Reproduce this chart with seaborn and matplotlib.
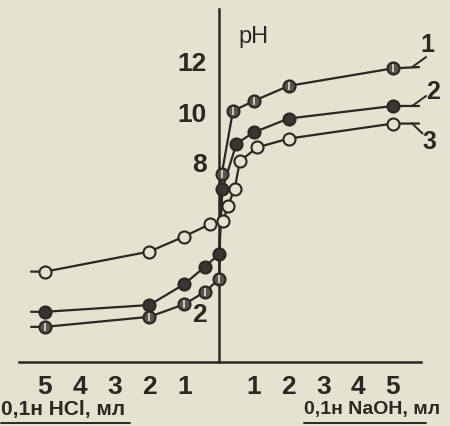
import numpy as np
import pandas as pd
import matplotlib
matplotlib.use("Agg")
import matplotlib.pyplot as plt
import seaborn as sns
from matplotlib import font_manager

# ---- data (x < 0: ml of 0.1 N HCl, x > 0: ml of 0.1 N NaOH) ----
x1 = [-5, -2, -1, -0.4, 0, 0.08, 0.4, 1, 2, 5]
ph1 = [1.4, 1.8, 2.3, 2.8, 3.3, 7.5, 10.0, 10.4, 11.0, 11.7]
x2 = [-5, -2, -1, -0.4, 0, 0.1, 0.5, 1, 2, 5]
ph2 = [2.0, 2.27, 3.1, 3.8, 4.3, 6.9, 8.7, 9.15, 9.7, 10.2]
x3 = [-5, -2, -1, -0.25, 0.12, 0.25, 0.45, 0.6, 1.1, 2, 5]
ph3 = [3.6, 4.4, 5.0, 5.5, 5.6, 6.2, 6.9, 8.0, 8.55, 8.9, 9.5]
curve_names = ["1", "2", "3"]
xtick_vals = [-5, -4, -3, -2, -1, 0, 1, 2, 3, 4, 5]
xtick_labels = ["5", "4", "3", "2", "1", "", "1", "2", "3", "4", "5"]
ytick_vals = [2, 4, 6, 8, 10, 12]
ytick_labels = ["2", "", "", "8", "10", "12"]
left_label = "0,1н HCl, мл"
right_label = "0,1н NaOH, мл"

PAPER = "#e6e2d0"
INK = "#2b2723"

sns.set_theme(style="white")
avail = {f.name for f in font_manager.fontManager.ttflist}
fam = "Liberation Sans Narrow" if "Liberation Sans Narrow" in avail else (
    "Liberation Sans" if "Liberation Sans" in avail else "DejaVu Sans")
plt.rcParams["font.family"] = [fam, "DejaVu Sans"]

fig = plt.figure(figsize=(4.5, 4.27), dpi=100, facecolor=PAPER)
ax = fig.add_axes([0, 0, 1, 1])
ax.set_facecolor(PAPER)

# tails beyond the last measured points (line only)
def with_tails(xs, ys, right_dy):
    xs2 = [-5.4] + list(xs) + [5.75]
    ys2 = [ys[0]] + list(ys) + [ys[-1] + right_dy]
    return xs2, ys2

frames = []
for name, xs, ys, dy in [("1", x1, ph1, 0.05), ("2", x2, ph2, 0.0), ("3", x3, ph3, 0.0)]:
    xt, yt = with_tails(xs, ys, dy)
    frames.append(pd.DataFrame({"x": xt, "pH": yt, "curve": name}))
lines_df = pd.concat(frames, ignore_index=True)

sns.lineplot(data=lines_df, x="x", y="pH", units="curve", estimator=None, sort=False,
             color=INK, lw=1.6, ax=ax, legend=False)

pts1 = pd.DataFrame({"x": x1, "pH": ph1})
pts2 = pd.DataFrame({"x": x2, "pH": ph2})
pts3 = pd.DataFrame({"x": x3, "pH": ph3})
sns.scatterplot(data=pts3, x="x", y="pH", s=75, color=PAPER, edgecolor=INK, linewidth=1.5, ax=ax, zorder=5)
sns.scatterplot(data=pts2, x="x", y="pH", s=75, color="#3a3531", edgecolor=INK, linewidth=1.5, ax=ax, zorder=5)
sns.scatterplot(data=pts1, x="x", y="pH", s=75, color="#5a5550", edgecolor=INK, linewidth=1.5, ax=ax, zorder=5)
sns.scatterplot(data=pts1, x="x", y="pH", s=40, marker="|", color="#d8d3c0", linewidth=1.3, ax=ax, zorder=6)

# axes geometry (pixel-matched)
ax.set_xlim(-219 / 34.8, 231 / 34.8)
ax.set_ylim((363 - 427) / 25.1, 363 / 25.1)
for s in ["top", "right"]:
    ax.spines[s].set_visible(False)
ax.spines["left"].set_position(("data", 0))
ax.spines["bottom"].set_position(("data", 0))
ax.spines["left"].set_bounds(0, 14.05)
ax.spines["bottom"].set_bounds(-5.75, 5.8)
for s in ["left", "bottom"]:
    ax.spines[s].set_color(INK)
    ax.spines[s].set_linewidth(1.8)

ax.set_xticks(xtick_vals)
ax.set_xticklabels(xtick_labels)
ax.set_yticks(ytick_vals)
ax.set_yticklabels(ytick_labels)
ax.tick_params(axis="x", direction="inout", length=11, width=1.5, color=INK,
               labelsize=19, labelcolor=INK, pad=3)
ax.tick_params(axis="y", direction="in", length=8, width=1.5, color=INK,
               labelsize=19, labelcolor=INK, pad=9)
for t in ax.get_xticklabels() + ax.get_yticklabels():
    t.set_fontweight("bold")
ax.set_xlabel("")
ax.set_ylabel("")

ax.text(1.0, 13.0, "pH", fontsize=17, color=INK, ha="center", va="center")

# curve labels with small forks
ax.text(6.0, 12.65, curve_names[0], fontsize=18, fontweight="bold", color=INK, ha="center", va="center")
ax.plot([5.55, 5.95], [11.75, 12.15], color=INK, lw=1.4)
ax.text(6.15, 10.8, curve_names[1], fontsize=18, fontweight="bold", color=INK, ha="center", va="center")
ax.plot([5.55, 5.95], [10.2, 10.6], color=INK, lw=1.4)
ax.text(6.05, 8.8, curve_names[2], fontsize=18, fontweight="bold", color=INK, ha="center", va="center")
ax.plot([5.55, 5.85], [9.5, 9.1], color=INK, lw=1.4)

# bottom axis captions, underlined
ax.text(-6.27, -1.85, left_label, fontsize=15, fontweight="bold", color=INK, ha="left", va="center")
ax.plot([-6.27, -2.55], [-2.45, -2.45], color=INK, lw=1.4)
ax.text(2.45, -1.85, right_label, fontsize=14, fontweight="bold", color=INK, ha="left", va="center")
ax.plot([2.45, 5.95], [-2.45, -2.45], color=INK, lw=1.4)

fig.savefig("out.png", dpi=100, facecolor=PAPER)
